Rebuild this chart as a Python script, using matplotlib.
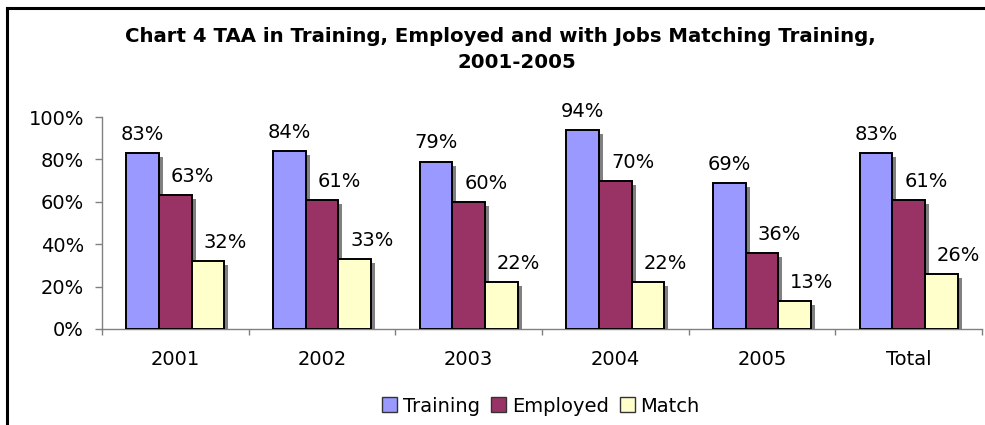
import matplotlib
matplotlib.use("Agg")
import matplotlib.pyplot as plt
import matplotlib.patheffects as pe
from matplotlib.patches import Patch
from matplotlib.lines import Line2D
from matplotlib.ticker import FixedLocator, PercentFormatter
import numpy as np

categories = ["2001", "2002", "2003", "2004", "2005", "Total"]
training = [83, 84, 79, 94, 69, 83]
employed = [63, 61, 60, 70, 36, 61]
match = [32, 33, 22, 22, 13, 26]
series_names = ["Training", "Employed", "Match"]

colors = ["#9999FF", "#993366", "#FFFFCC"]
label_dx_pt = [0, 12.5, 12.5]  # horizontal nudge of value labels per series

W, H = 985, 425
fig = plt.figure(figsize=(W / 100, H / 100), dpi=100)
ax = fig.add_axes([102 / W, 1 - 329 / H, 880 / W, 212 / H])

x = np.arange(len(categories))
bw = 0.222
shadow = [pe.SimplePatchShadow(offset=(2.9, -2.9), shadow_rgbFace="#808080", alpha=1.0),
          pe.Normal()]

for i, (vals, col) in enumerate(zip([training, employed, match], colors)):
    pos = x + (i - 1) * bw
    bars = ax.bar(pos, vals, width=bw, color=col, edgecolor="black",
                  linewidth=1.4, zorder=3 + i)
    for b in bars:
        b.set_path_effects(shadow)
    for px, v in zip(pos, vals):
        ax.annotate(f"{v}%", xy=(px, v), xytext=(label_dx_pt[i], 9.4),
                    textcoords="offset points", ha="center", va="baseline",
                    fontsize=14, family="DejaVu Sans", zorder=10)

ax.set_xlim(-0.5, len(categories) - 0.5)
ax.set_ylim(0, 100)
ax.yaxis.set_major_locator(FixedLocator([0, 20, 40, 60, 80, 100]))
ax.yaxis.set_major_formatter(PercentFormatter(decimals=0))
ax.set_xticks(x)
ax.set_xticklabels(categories)
ax.xaxis.set_minor_locator(FixedLocator(np.arange(-0.5, len(categories), 1.0)))

for s in ["top", "right"]:
    ax.spines[s].set_visible(False)
for s in ["left", "bottom"]:
    ax.spines[s].set_color("#808080")
    ax.spines[s].set_linewidth(1.0)

ax.tick_params(axis="x", which="major", length=0, pad=15, labelsize=14)
ax.tick_params(axis="x", which="minor", length=4.5, width=1, color="#808080", direction="out")
ax.tick_params(axis="y", which="major", length=5, width=1, color="#808080",
               direction="out", pad=8, labelsize=14)

# Title (two centred lines)
fig.text(500 / W, 1 - 42 / H, "Chart 4 TAA in Training, Employed and with Jobs Matching Training,",
         ha="center", va="baseline", fontsize=14.2, fontweight="bold", family="DejaVu Sans")
fig.text(517 / W, 1 - 68 / H, "2001-2005",
         ha="center", va="baseline", fontsize=14.2, fontweight="bold", family="DejaVu Sans")

# Legend
handles = [Patch(facecolor=c, edgecolor="#333333", linewidth=1.0) for c in colors]
fig.legend(handles, series_names, loc="center", bbox_to_anchor=(541 / W, 1 - 406 / H),
           ncol=3, frameon=False, fontsize=14, handlelength=0.78, handleheight=0.78,
           handletextpad=0.3, columnspacing=0.55, borderpad=0)

# Chart area border (top and left edges visible)
fig.add_artist(Line2D([7 / W, 1.0], [1 - 8 / H, 1 - 8 / H], transform=fig.transFigure,
                      color="black", linewidth=2.2))
fig.add_artist(Line2D([7 / W, 7 / W], [0.0, 1 - 8 / H], transform=fig.transFigure,
                      color="black", linewidth=2.2))

fig.savefig("out.png", dpi=100)
